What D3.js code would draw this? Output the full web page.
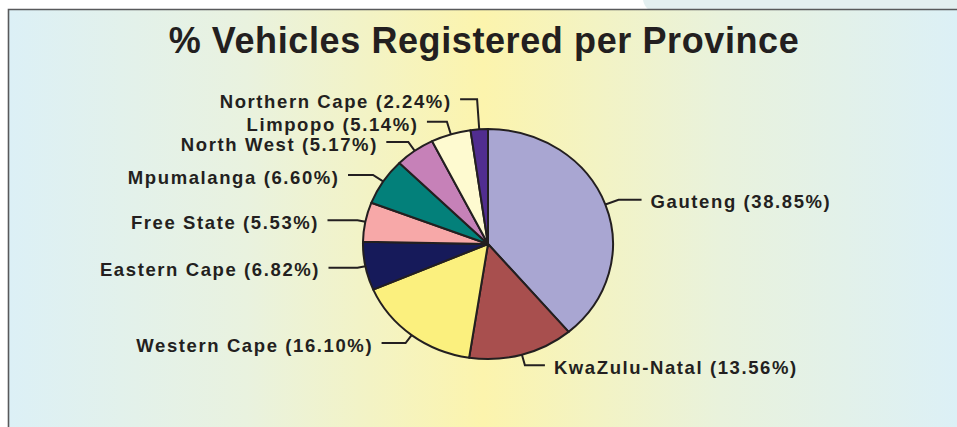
<!DOCTYPE html>
<html>
<head>
<meta charset="utf-8">
<script src="https://cdn.jsdelivr.net/npm/d3@7"></script>
<style>
	body { margin: 0; background: #ffffff; }
	svg { display: block; }
	.slice { stroke: #231f20; stroke-width: 2; stroke-linejoin: round; vector-effect: non-scaling-stroke; }
	.leader { fill: none; stroke: #231f20; stroke-width: 2; }
	.slice_label { font-family: "Liberation Sans", Arial, Helvetica, sans-serif; font-weight: bold; font-size: 18.5px; letter-spacing: 1.6px; fill: #231f20; }
	.chart_title { font-family: "Liberation Sans", Arial, Helvetica, sans-serif; font-weight: bold; font-size: 36px; letter-spacing: 0.6px; fill: #231f20; }
</style>
</head>
<body>
<div id="chart"></div>
<script>

//provinces, clockwise from 12 o'clock
let provinces = ["Gauteng", "KwaZulu-Natal", "Western Cape", "Eastern Cape", "Free State",
	"Mpumalanga", "North West", "Limpopo", "Northern Cape"];

//percent of vehicles registered
let percents = [38.85, 13.56, 16.10, 6.82, 5.53, 6.60, 5.17, 5.14, 2.24];

//slice colours
let slice_colors = ["#a9a6d2", "#a84f4e", "#fbf07e", "#161a5a", "#f7a8a8",
	"#03807a", "#c681b8", "#fefad0", "#512d90"];

let title = "% Vehicles Registered per Province";

draw_piechart();

function draw_piechart()
{
	/**
	 * Helper method to draw the pie chart with its labels
	 */
	let width = 957;
	let height = 427;

	//the pie is slightly wider than tall
	let cx = 488, cy = 244, rx = 125, ry = 115;

	//leader line layout: radial stub length, horizontal tail length
	let stub = [14, 11, 10, 8, 8, 12, 11, 13, 30];
	let tail = [23, 20, 24, 29, 30, 25, 22, 20, 17];

	let svg = d3.select("#chart")
		.append("svg")
		.attr("width", width)
		.attr("height", height);

	//background gradient
	let defs = svg.append("defs");
	let grad = defs.append("linearGradient")
		.attr("id", "bg_grad")
		.attr("x1", "0%").attr("x2", "100%")
		.attr("y1", "0%").attr("y2", "0%");
	grad.append("stop").attr("offset", "0%").attr("stop-color", "#dcf0f6");
	grad.append("stop").attr("offset", "25%").attr("stop-color", "#e9f2df");
	grad.append("stop").attr("offset", "50%").attr("stop-color", "#fcf4ad");
	grad.append("stop").attr("offset", "75%").attr("stop-color", "#e9f2dc");
	grad.append("stop").attr("offset", "100%").attr("stop-color", "#dcf0f6");

	//light blue strip on the top right, outside the frame
	svg.append("path")
		.attr("d", "M643,0 L957,0 L957,10 L649,10 Q644,6 643,0 Z")
		.attr("fill", "#e3eff0");

	svg.append("rect")
		.attr("x", 9)
		.attr("y", 10)
		.attr("width", width - 9)
		.attr("height", height - 10)
		.attr("fill", "url(#bg_grad)");

	//frame: left and top edges only
	svg.append("path")
		.attr("d", "M8.5," + height + " L8.5,9.5 L" + width + ",9.5")
		.attr("fill", "none")
		.attr("stroke", "#58595b")
		.attr("stroke-width", 1.6);

	//title
	svg.append("text")
		.attr("class", "chart_title")
		.attr("text-anchor", "middle")
		.attr("x", 484)
		.attr("y", 53)
		.text(title);

	//pie layout
	let pie = d3.pie()
		.sort(null)
		.value((d) => d);

	let arcs = pie(percents);

	let arc = d3.arc()
		.innerRadius(0)
		.outerRadius(1);

	let pie_group = svg.append("g")
		.attr("transform", "translate(" + cx + "," + cy + ") scale(" + rx + "," + ry + ")");

	pie_group.selectAll("path")
		.data(arcs)
		.enter()
		.append("path")
		.attr("class", "slice")
		.attr("fill", (d, i) => slice_colors[i])
		.attr("d", arc);

	//leader lines and labels
	let label_group = svg.append("g");

	arcs.forEach((d, i) => {
		let a = (d.startAngle + d.endAngle) / 2;
		let sx = Math.sin(a), sy = -Math.cos(a);
		let rim = [cx + rx * sx, cy + ry * sy];
		let elbow = [rim[0] + stub[i] * sx, rim[1] + stub[i] * sy];
		let right = sx > 0;
		let end_x = right ? elbow[0] + tail[i] : elbow[0] - tail[i];

		label_group.append("path")
			.attr("class", "leader")
			.attr("d", d3.line()([rim, elbow, [end_x, elbow[1]]]));

		label_group.append("text")
			.attr("class", "slice_label")
			.attr("text-anchor", right ? "start" : "end")
			.attr("x", right ? end_x + 9 : end_x - 10 + 1.6)
			.attr("y", elbow[1] + 8.7)
			.text(provinces[i] + " (" + percents[i].toFixed(2) + "%)");
	});
}

</script>
</body>
</html>
